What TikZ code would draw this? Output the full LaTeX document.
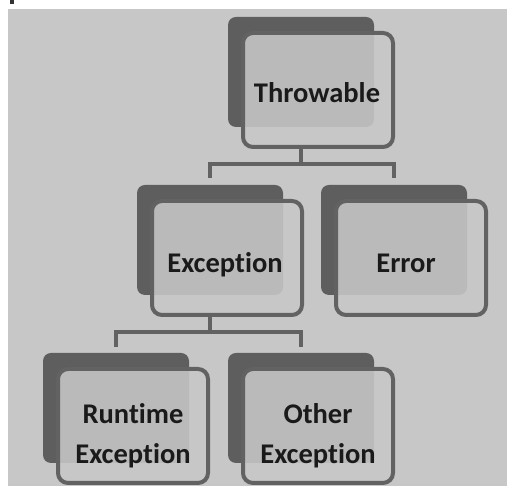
\documentclass[tikz,border=0pt]{standalone}
\usepackage{fontspec}
\setmainfont[Ligatures=NoCommon,RawFeature={-liga;-clig;-dlig;-calt}]{Carlito}
\definecolor{bgc}{HTML}{C7C7C7}
\definecolor{backc}{HTML}{5E5E5E}
\definecolor{linec}{HTML}{626262}
\definecolor{txtc}{HTML}{1A1A1A}
\begin{document}
\begin{tikzpicture}[x=1pt,y=1pt,
  backbox/.style={fill=backc, draw=none, rounded corners=8pt, minimum width=146pt, minimum height=110pt, inner sep=0pt},
  frontbox/.style={fill=bgc, fill opacity=0.88, draw=linec, draw opacity=1, line width=4pt, rounded corners=10pt, minimum width=150pt, minimum height=114pt, inner sep=0pt},
  lbl/.style={text=txtc, font=\bfseries\fontsize{28.5}{40}\selectfont, align=center, inner sep=0pt},
  conn/.style={draw=linec, line width=4pt}]
\useasboundingbox (0,0) rectangle (507,486);
\fill[white] (0,0) rectangle (507,486);
\fill[bgc] (8,0) rectangle (507,477);
\fill[black!80] (10,482) rectangle (14,486);
% Throwable
\node[backbox] (tb) at (301,414) {};
\node[frontbox] (t) at (318,396) {};
\node[lbl, anchor=base] (tl) at (317,383) {Throwable};
% Exception
\node[backbox] (eb) at (210,246) {};
\node[frontbox] (e) at (227,228) {};
\node[lbl, anchor=base] (el) at (225,213) {Exception};
% Error
\node[backbox] (rb) at (394,246) {};
\node[frontbox] (r) at (411,228) {};
\node[lbl, anchor=base] (rl) at (406,213) {Error};
% Runtime Exception
\node[backbox] (ub) at (116,78) {};
\node[frontbox] (u) at (133,60) {};
\node[lbl] (ul) at (133,50) {Runtime\\Exception};
% Other Exception
\node[backbox] (ob) at (301,78) {};
\node[frontbox] (o) at (318,60) {};
\node[lbl] (ol) at (318,50) {Other\\Exception};
% connectors
\draw[conn] (tb |- t.south) -- ++(0,-15) coordinate (j1);
\draw[conn] ([yshift=7pt]eb.north) |- (j1) -| ([yshift=7pt]rb.north);
\draw[conn] (eb |- e.south) -- ++(0,-15) coordinate (j2);
\draw[conn] ([yshift=6pt]ub.north) |- (j2) -| ([yshift=6pt]ob.north);
\end{tikzpicture}
\end{document}
